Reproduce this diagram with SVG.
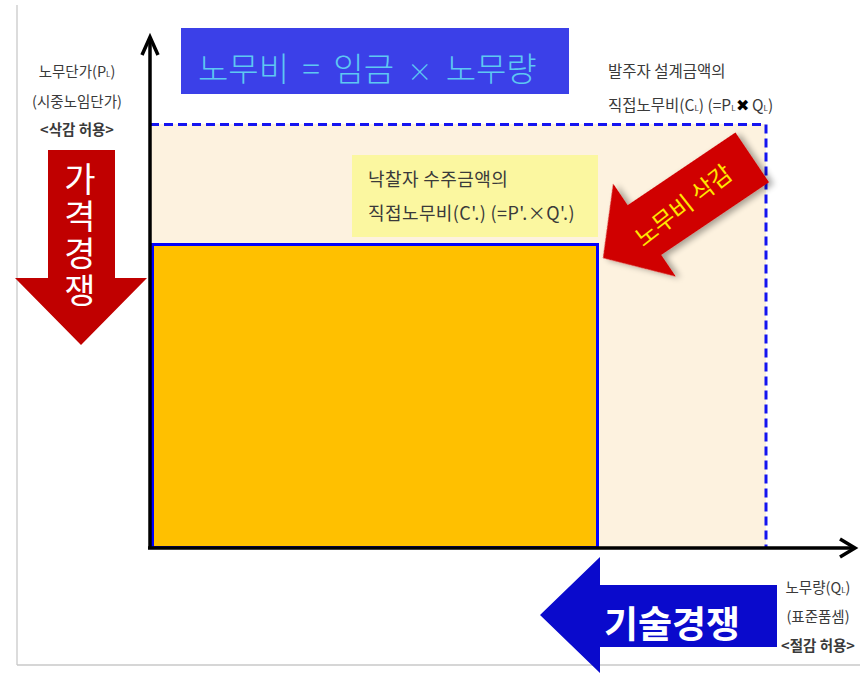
<svg xmlns="http://www.w3.org/2000/svg" width="860" height="673" viewBox="0 0 860 673">
<style>
.lbl{font-family:"Noto Sans CJK KR","Noto Sans",sans-serif;font-size:14.5px;fill:#3a3a3a}
.b{font-weight:bold}
.axis{stroke:#000;stroke-width:3.5;fill:none}
.dash{stroke:#1414f0;stroke-width:3;stroke-dasharray:9 5;fill:none}
.sub{font-size:8px}
</style>
<defs>
<filter id="sh" x="-20%" y="-20%" width="140%" height="140%">
<feGaussianBlur in="SourceAlpha" stdDeviation="3"/>
<feOffset dx="3" dy="4" result="o"/>
<feComponentTransfer><feFuncA type="linear" slope="0.35"/></feComponentTransfer>
<feMerge><feMergeNode/><feMergeNode in="SourceGraphic"/></feMerge>
</filter>
</defs>
<rect width="860" height="673" fill="#fff"/>
<g id="frame">
<line x1="17" y1="5" x2="17" y2="665" stroke="#d0d0d0" stroke-width="1.5"/>
<line x1="17" y1="665" x2="860" y2="665" stroke="#c8c8c8" stroke-width="1.5"/>
</g>
<g id="design-area">
<rect x="150" y="124" width="616" height="424" fill="#fdf2df"/>
</g>
<g id="bid-area">
<rect x="152.5" y="244.5" width="445" height="303" fill="#ffc000" stroke="#0000ff" stroke-width="3"/>
</g>
<g id="bid-label">
<rect x="352" y="155" width="246" height="82" fill="#fbf7a0"/>
<text class="lbl" x="368" y="186" style="font-size:18px;letter-spacing:0.4px">낙찰자 수주금액의</text>
<text class="lbl" x="368" y="220" style="font-size:18px;letter-spacing:0.4px">직접노무비(C'.) (=P'.×Q'.)</text>
</g>
<g id="connectors">
<path class="dash" d="M150 124.5 H766 V548"/>
<line class="axis" x1="150" y1="38" x2="150" y2="549"/>
<line class="axis" x1="148" y1="548" x2="854" y2="548"/>
<path class="axis" d="M142 55 L150 37 L158 55"/>
<path class="axis" d="M840 539 L855 548 L840 557"/>
</g>
<g id="title">
<rect x="181" y="28" width="388" height="66" fill="#3b40e8"/>
<text x="198" y="81" style="font-family:'Noto Sans CJK KR','Noto Sans',sans-serif;font-size:33px;font-weight:300;fill:#5ec8f2;word-spacing:6px">노무비 = 임금 <tspan style="font-size:25px">×</tspan> 노무량</text>
</g>
<g id="y-label">
<text class="lbl" x="77" y="77" text-anchor="middle">노무단가(P<tspan class="sub">L</tspan>)</text>
<text class="lbl" x="77" y="107" text-anchor="middle">(시중노임단가)</text>
<text class="lbl b" x="77" y="135" text-anchor="middle">&lt;삭감 허용&gt;</text>
</g>
<g id="design-label">
<text class="lbl" x="608" y="77" style="font-size:15.5px">발주자 설계금액의</text>
<text class="lbl" x="608" y="111" style="font-size:15.5px">직접노무비(C<tspan class="sub">L</tspan>) (=P<tspan class="sub">L</tspan><tspan style="fill:#000;font-size:16px">✖</tspan> Q<tspan class="sub">L</tspan>)</text>
</g>
<g id="x-label">
<text class="lbl" x="818" y="593" text-anchor="middle">노무량(Q<tspan class="sub">L</tspan>)</text>
<text class="lbl" x="818" y="622" text-anchor="middle">(표준품셈)</text>
<text class="lbl b" x="818" y="651" text-anchor="middle">&lt;절감 허용&gt;</text>
</g>
<g id="price-competition">
<polygon points="48,150 115,150 115,278 147,278 81,345 15,278 48,278" fill="#c00000"/>
<text x="80" y="162" style="font-family:'Noto Sans CJK KR','Noto Sans',sans-serif;font-size:34px;fill:#fff;writing-mode:vertical-rl;text-orientation:upright;letter-spacing:3px">가격경쟁</text>
</g>
<g id="tech-competition">
<polygon points="777,585 600,585 600,557 540,615 600,673 600,647 777,647" fill="#0a0acc"/>
<text x="672" y="638" text-anchor="middle" style="font-family:'Noto Sans CJK KR','Noto Sans',sans-serif;font-size:37px;font-weight:bold;fill:#fff">기술경쟁</text>
</g>
<g id="cost-cut" transform="translate(603,258) rotate(-34)">
<polygon points="0,0 50,-56 50,-30 180,-30 180,30 50,30 50,56" fill="#d00000" filter="url(#sh)"/>
<text x="96" y="10" text-anchor="middle" transform="rotate(-4 96 0)" style="font-family:'Noto Sans CJK KR','Noto Sans',sans-serif;font-size:24px;fill:#ffe600">노무비 삭감</text>
</g>
</svg>
